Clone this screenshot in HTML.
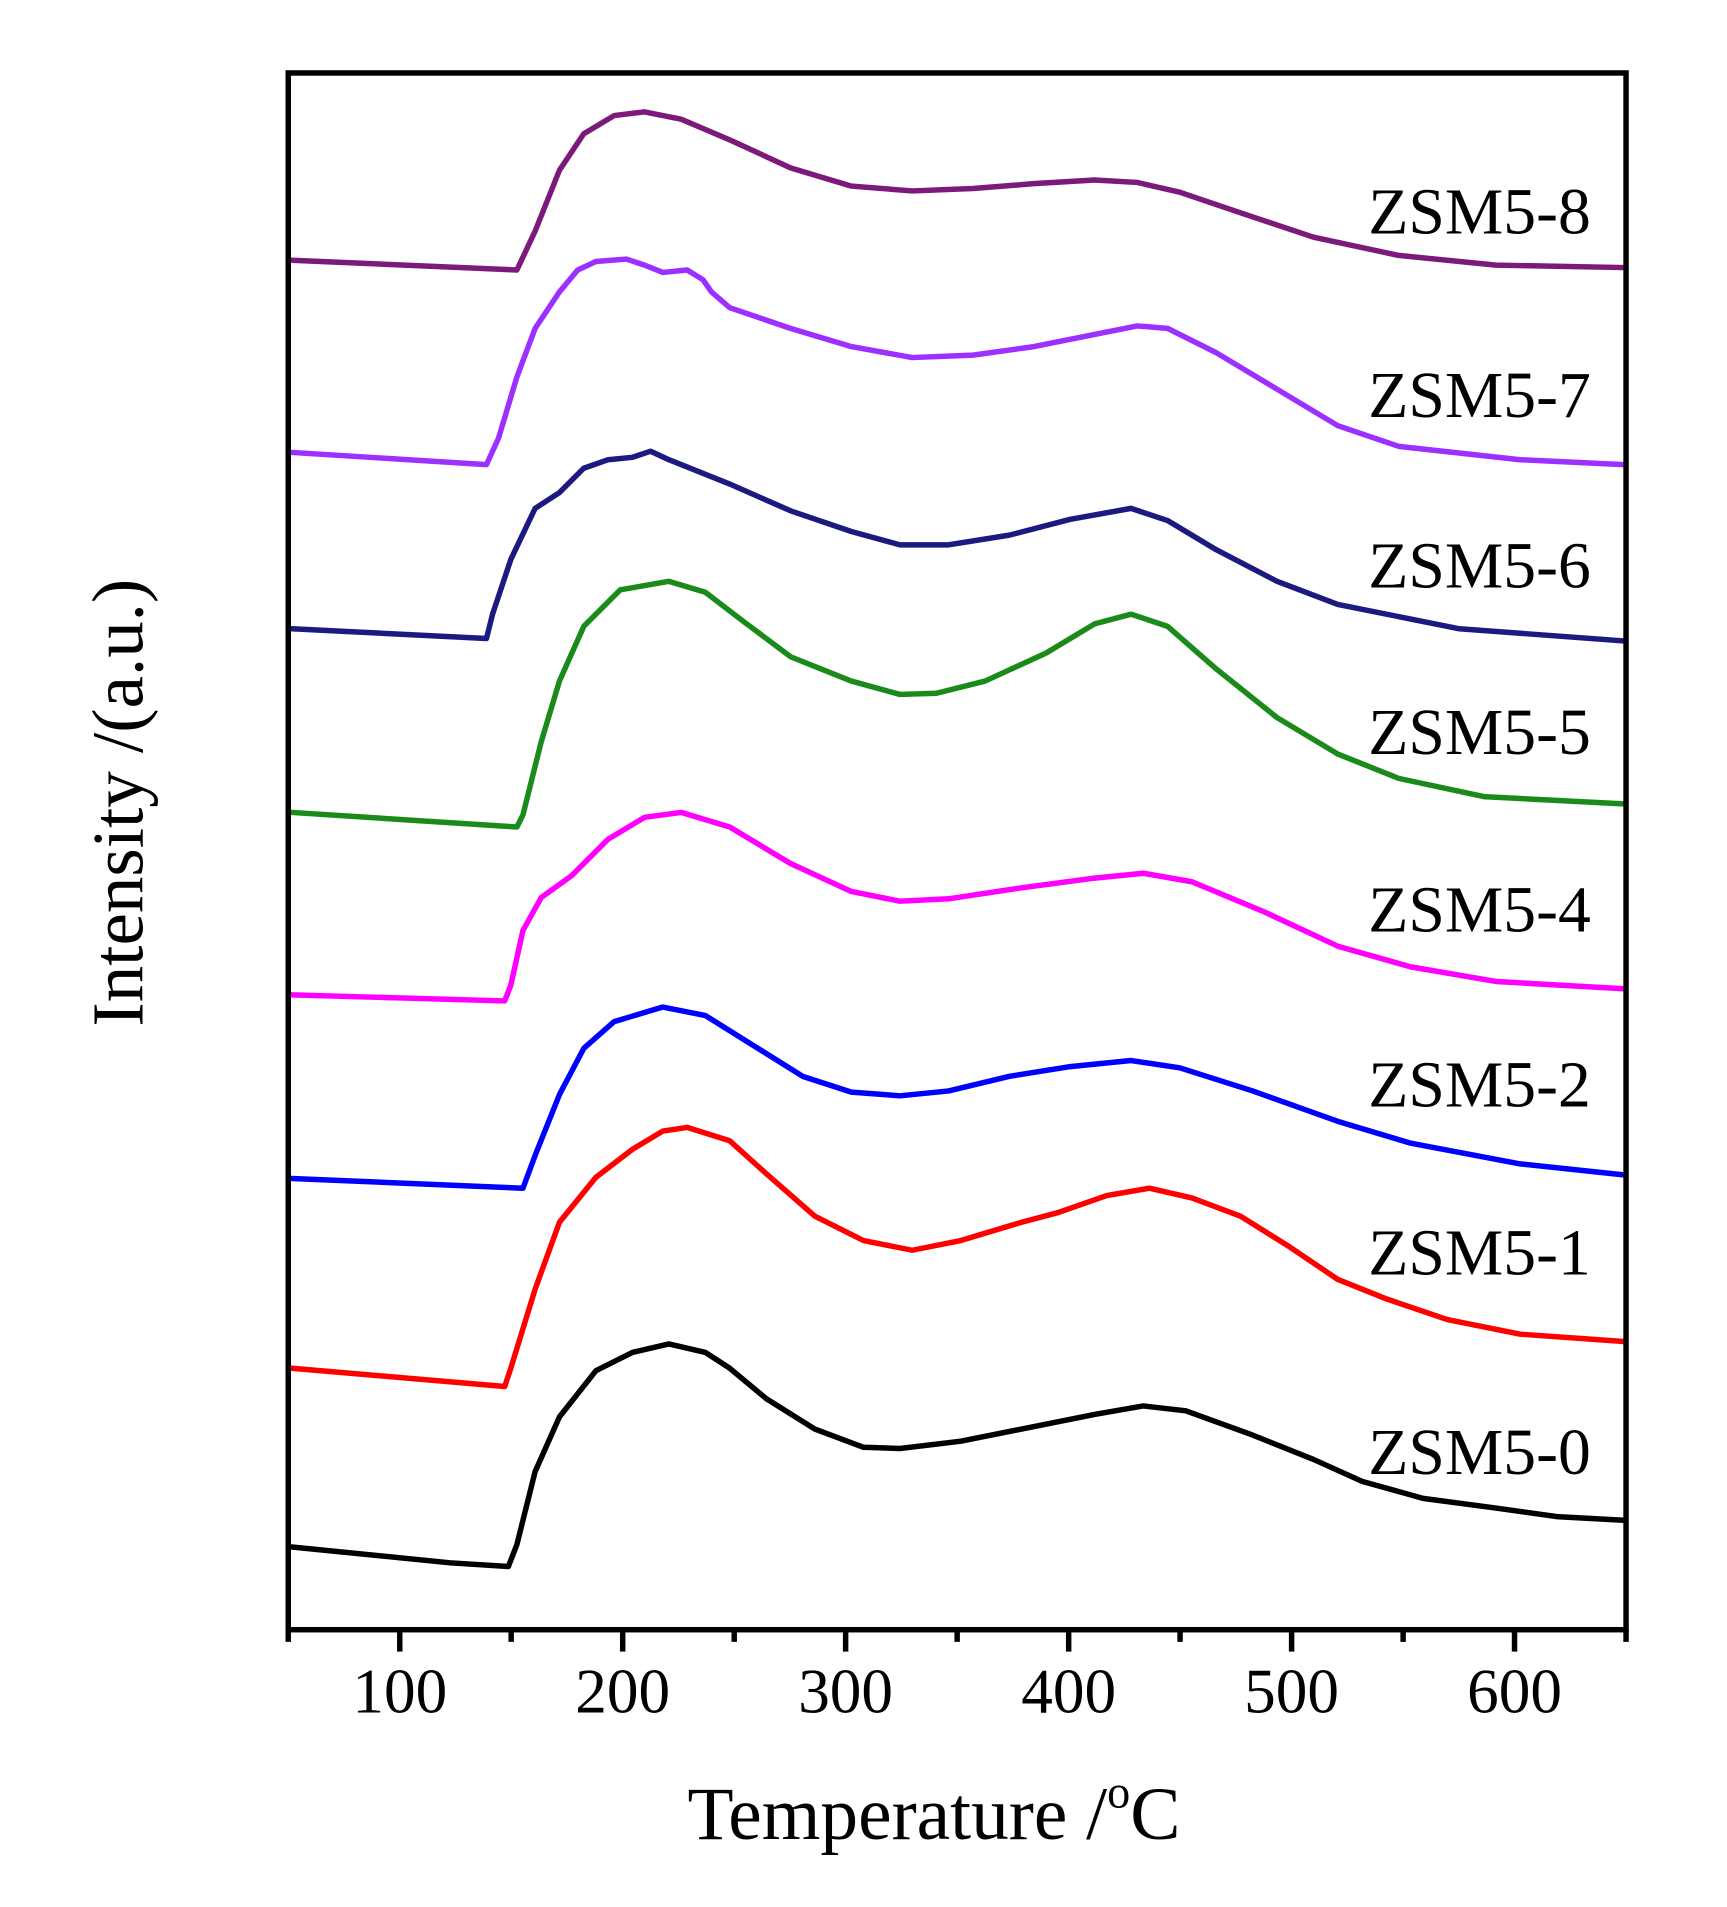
<!DOCTYPE html>
<html><head><meta charset="utf-8"><style>html,body{margin:0;padding:0;background:#fff}svg{display:block}</style></head>
<body>
<svg width="1727" height="1907" viewBox="0 0 1420 1568" xmlns="http://www.w3.org/2000/svg" font-family="Liberation Serif, serif">
<rect width="1420" height="1568" fill="#fff"/>
<g fill="none" stroke-width="4.5" stroke-linejoin="round" stroke-linecap="round">
<polyline stroke="#7b1a7b" points="240,214 425,222 440,190 460,140 480,110 505,95 530,92 560,98 600,115 650,138 700,153 750,157 800,155 850,151 900,148 935,150 970,158 1020,175 1080,195 1150,210 1230,218 1335,220"/>
<polyline stroke="#9b30ff" points="240,372 400,382 410,360 425,310 440,270 460,240 475,222 490,215 515,213 530,218 545,224 565,222 578,230 585,240 600,253 650,270 700,285 750,294 800,292 850,285 900,275 935,268 960,270 1000,290 1050,320 1100,350 1150,367 1250,378 1335,382"/>
<polyline stroke="#1a1a80" points="240,517 400,525 405,505 420,460 440,418 460,405 480,385 500,378 520,376 535,371 550,378 600,398 650,420 700,437 740,448 780,448 830,440 880,427 930,418 960,428 1000,452 1050,478 1100,497 1200,517 1335,527"/>
<polyline stroke="#1a8a1a" points="240,668 425,680 430,670 445,610 460,560 480,515 510,485 550,478 580,487 610,510 650,540 700,560 740,571 770,570 810,560 860,537 900,513 930,505 960,515 1000,550 1050,590 1100,620 1150,640 1220,655 1335,661"/>
<polyline stroke="#ff00ff" points="240,818 415,823 420,810 430,765 445,738 470,720 500,690 530,672 560,668 600,680 650,710 700,733 740,741 780,739 840,730 900,722 940,718 980,725 1040,750 1100,778 1160,795 1230,807 1335,813"/>
<polyline stroke="#0000ff" points="240,969 430,977 440,950 460,900 480,862 505,840 545,828 580,835 620,860 660,885 700,898 740,901 780,897 830,885 880,877 930,872 970,878 1030,897 1100,922 1160,940 1250,957 1335,966"/>
<polyline stroke="#ff0000" points="240,1125 415,1140 420,1125 440,1060 460,1005 490,968 520,945 545,930 565,927 600,938 630,965 670,1000 710,1020 750,1028 790,1020 840,1005 870,997 910,983 945,977 980,985 1020,1000 1060,1025 1100,1052 1140,1068 1190,1085 1250,1097 1335,1103"/>
<polyline stroke="#000000" points="240,1272 370,1285 418,1288 425,1270 440,1210 460,1165 490,1127 520,1112 550,1105 580,1112 600,1125 630,1150 670,1175 710,1190 740,1191 790,1185 840,1175 900,1163 940,1156 975,1160 1030,1180 1080,1200 1120,1218 1170,1232 1230,1240 1280,1247 1335,1250"/>
</g>
<rect x="237" y="60" width="1100" height="1280" fill="none" stroke="#000" stroke-width="4.5"/>
<g stroke="#000" stroke-width="4.5">
<line x1="237" y1="1340" x2="237" y2="1350"/>
<line x1="328.7" y1="1340" x2="328.7" y2="1358"/>
<line x1="420.3" y1="1340" x2="420.3" y2="1350"/>
<line x1="512" y1="1340" x2="512" y2="1358"/>
<line x1="603.7" y1="1340" x2="603.7" y2="1350"/>
<line x1="695.3" y1="1340" x2="695.3" y2="1358"/>
<line x1="787" y1="1340" x2="787" y2="1350"/>
<line x1="878.7" y1="1340" x2="878.7" y2="1358"/>
<line x1="970.3" y1="1340" x2="970.3" y2="1350"/>
<line x1="1062" y1="1340" x2="1062" y2="1358"/>
<line x1="1153.7" y1="1340" x2="1153.7" y2="1350"/>
<line x1="1245.3" y1="1340" x2="1245.3" y2="1358"/>
<line x1="1337" y1="1340" x2="1337" y2="1350"/>
</g>
<g font-size="52" text-anchor="middle" fill="#000">
<text x="328.7" y="1408">100</text><text x="512" y="1408">200</text><text x="695.3" y="1408">300</text>
<text x="878.7" y="1408">400</text><text x="1062" y="1408">500</text><text x="1245.3" y="1408">600</text>
</g>
<text x="768" y="1512" font-size="62" text-anchor="middle">Temperature /<tspan font-size="38" dy="-26">o</tspan><tspan dy="26">C</tspan></text>
<text transform="translate(117,660) rotate(-90)" font-size="60" text-anchor="middle">Intensity /(a.u.)</text>
<g font-size="54" text-anchor="end" fill="#000">
<text x="1308" y="192">ZSM5-8</text><text x="1308" y="343">ZSM5-7</text><text x="1308" y="483">ZSM5-6</text>
<text x="1308" y="620">ZSM5-5</text><text x="1308" y="766">ZSM5-4</text><text x="1308" y="910">ZSM5-2</text>
<text x="1308" y="1048">ZSM5-1</text><text x="1308" y="1212">ZSM5-0</text>
</g>
</svg>
</body></html>
